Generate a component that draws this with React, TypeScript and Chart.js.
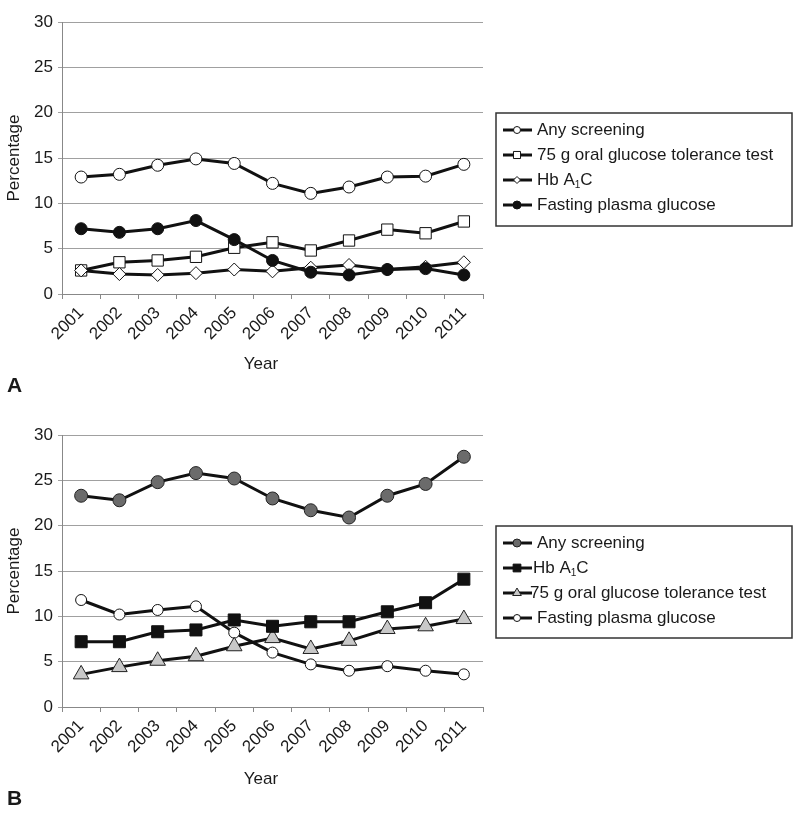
import React, { useEffect, useRef } from 'react';
import { Chart, registerables } from 'chart.js';

Chart.register(...registerables);

const FONT = "'Liberation Sans', Arial, Helvetica, sans-serif";

const years = ['2001', '2002', '2003', '2004', '2005', '2006', '2007', '2008', '2009', '2010', '2011'];
const yMin = 0;
const yMax = 30;
const yStep = 5;

// Panel A
const aLabels = ['Any screening', '75 g oral glucose tolerance test', 'Hb A₁C', 'Fasting plasma glucose'];
const aAnyScreening = [12.9, 13.2, 14.2, 14.9, 14.4, 12.2, 11.1, 11.8, 12.9, 13.0, 14.3];
const aOgtt = [2.6, 3.5, 3.7, 4.1, 5.1, 5.7, 4.8, 5.9, 7.1, 6.7, 8.0];
const aHba1c = [2.6, 2.2, 2.1, 2.3, 2.7, 2.5, 2.9, 3.2, 2.7, 3.0, 3.5];
const aFpg = [7.2, 6.8, 7.2, 8.1, 6.0, 3.7, 2.4, 2.1, 2.7, 2.8, 2.1];

// Panel B
const bLabels = ['Any screening', 'Hb A₁C', '75 g oral glucose tolerance test', 'Fasting plasma glucose'];
const bAnyScreening = [23.3, 22.8, 24.8, 25.8, 25.2, 23.0, 21.7, 20.9, 23.3, 24.6, 27.6];
const bHba1c = [7.2, 7.2, 8.3, 8.5, 9.6, 8.9, 9.4, 9.4, 10.5, 11.5, 14.1];
const bOgtt = [3.6, 4.4, 5.1, 5.6, 6.7, 7.6, 6.4, 7.3, 8.6, 8.9, 9.7];
const bFpg = [11.8, 10.2, 10.7, 11.1, 8.2, 6.0, 4.7, 4.0, 4.5, 4.0, 3.6];

const xTitle = 'Year';
const yTitle = 'Percentage';

type MarkerSpec = { style: string; r: number; fill: string; stroke: string; lw: number; legendR: number };

function drawMarker(ctx: CanvasRenderingContext2D, m: MarkerSpec, x: number, y: number, r: number) {
  ctx.beginPath();
  if (m.style === 'circle') {
    ctx.arc(x, y, r, 0, Math.PI * 2);
  } else if (m.style === 'rect') {
    const s = r * Math.SQRT1_2;
    ctx.rect(x - s, y - s, 2 * s, 2 * s);
  } else if (m.style === 'rectRot') {
    ctx.moveTo(x, y - r);
    ctx.lineTo(x + r, y);
    ctx.lineTo(x, y + r);
    ctx.lineTo(x - r, y);
    ctx.closePath();
  } else if (m.style === 'triangle') {
    ctx.moveTo(x, y - r);
    ctx.lineTo(x + r * Math.sin((2 * Math.PI) / 3), y - r * Math.cos((2 * Math.PI) / 3));
    ctx.lineTo(x + r * Math.sin((4 * Math.PI) / 3), y - r * Math.cos((4 * Math.PI) / 3));
    ctx.closePath();
  }
  ctx.fillStyle = m.fill;
  ctx.fill();
  ctx.lineWidth = m.lw;
  ctx.strokeStyle = m.stroke;
  ctx.stroke();
}

function drawRichLabel(ctx: CanvasRenderingContext2D, text: string, x: number, y: number, size: number) {
  const parts = text.split('₁');
  ctx.fillStyle = '#1a1a1a';
  ctx.textBaseline = 'middle';
  ctx.textAlign = 'left';
  let cx = x;
  parts.forEach((p, i) => {
    ctx.font = `${size}px ${FONT}`;
    ctx.fillText(p, cx, y);
    cx += ctx.measureText(p).width;
    if (i < parts.length - 1) {
      ctx.font = `${Math.round(size * 0.6)}px ${FONT}`;
      ctx.fillText('1', cx, y + 5);
      cx += ctx.measureText('1').width;
    }
  });
}

const panelPlugin = {
  id: 'panelDecor',
  afterDraw(chart: any, _args: any, opts: any) {
    const ctx: CanvasRenderingContext2D = chart.ctx;
    ctx.save();
    // legend box
    const { box, items, rowStart, rowGap } = opts;
    ctx.lineWidth = 1.5;
    ctx.strokeStyle = '#333';
    ctx.strokeRect(box.x, box.y, box.w, box.h);
    items.forEach((it: any, i: number) => {
      const cy = box.y + rowStart + i * rowGap;
      ctx.beginPath();
      ctx.moveTo(box.x + 7, cy);
      ctx.lineTo(box.x + 36, cy);
      ctx.lineWidth = 3;
      ctx.strokeStyle = '#111';
      ctx.stroke();
      drawMarker(ctx, it.marker, box.x + 21, cy, it.marker.legendR);
      drawRichLabel(ctx, it.label, box.x + 41 + (it.dx || 0), cy, 17);
    });
    // x axis title
    ctx.fillStyle = '#1a1a1a';
    ctx.font = `17px ${FONT}`;
    ctx.textAlign = 'center';
    ctx.textBaseline = 'alphabetic';
    ctx.fillText(opts.xTitle, opts.xTitleX, opts.xTitleY);
    // panel letter
    ctx.font = `bold 21px ${FONT}`;
    ctx.textAlign = 'left';
    ctx.fillText(opts.letter, 7, opts.letterY);
    ctx.restore();
  },
};

Chart.register(panelPlugin);

type SeriesDef = { label: string; data: number[]; marker: MarkerSpec; order: number; dx?: number };

function buildConfig(series: SeriesDef[], padTop: number, decor: any): any {
  return {
    type: 'line',
    data: {
      labels: years,
      datasets: series.map((s) => ({
        label: s.label,
        data: s.data,
        borderColor: '#111',
        borderWidth: 3,
        tension: 0,
        fill: false,
        order: s.order,
        pointStyle: s.marker.style,
        pointRadius: s.marker.r,
        pointBackgroundColor: s.marker.fill,
        pointBorderColor: s.marker.stroke,
        pointBorderWidth: s.marker.lw,
      })),
    },
    options: {
      responsive: false,
      animation: false,
      events: [],
      layout: { padding: { left: 0, right: 317, top: padTop, bottom: 0 } },
      plugins: {
        legend: { display: false },
        tooltip: { enabled: false },
        panelDecor: {
          ...decor,
          items: series.map((s) => ({ label: s.label, marker: s.marker, dx: s.dx })),
        },
      },
      scales: {
        x: {
          type: 'category',
          offset: true,
          grid: { display: true, drawOnChartArea: false, drawTicks: true, tickLength: 5, offset: true, color: '#888', lineWidth: 1 },
          border: { display: true, color: '#888', width: 1 },
          ticks: { minRotation: 45, maxRotation: 45, autoSkip: false, padding: 4, color: '#1a1a1a', font: { family: FONT, size: 17 } },
          afterFit: (s: any) => {
            s.height = 106;
          },
        },
        y: {
          min: yMin,
          max: yMax,
          ticks: { stepSize: yStep, padding: 5, color: '#1a1a1a', font: { family: FONT, size: 17 } },
          grid: { color: '#a0a0a0', lineWidth: 1, tickLength: 4, drawTicks: true },
          border: { display: true, color: '#888', width: 1 },
          title: { display: true, text: yTitle, color: '#1a1a1a', font: { family: FONT, size: 17 }, padding: { top: 4, bottom: 0 } },
          afterFit: (s: any) => {
            s.width = 62;
          },
        },
      },
    },
  };
}

const legendBase = { box: { x: 496, w: 296, h: 113 }, rowStart: 17, rowGap: 25 };

function PanelA() {
  const ref = useRef<HTMLCanvasElement>(null);
  useEffect(() => {
    const series: SeriesDef[] = [
      { label: aLabels[0], data: aAnyScreening, order: 3, marker: { style: 'circle', r: 6, fill: '#fff', stroke: '#111', lw: 1, legendR: 3.5 } },
      { label: aLabels[1], data: aOgtt, order: 2, marker: { style: 'rect', r: 8, fill: '#fff', stroke: '#111', lw: 1, legendR: 5 } },
      { label: aLabels[2], data: aHba1c, order: 1, marker: { style: 'rectRot', r: 6.5, fill: '#fff', stroke: '#111', lw: 1, legendR: 3.5 } },
      { label: aLabels[3], data: aFpg, order: 0, marker: { style: 'circle', r: 6, fill: '#111', stroke: '#111', lw: 1, legendR: 4 } },
    ];
    const chart = new Chart(
      ref.current as HTMLCanvasElement,
      buildConfig(series, 22, {
        ...legendBase,
        box: { ...legendBase.box, y: 113 },
        xTitle,
        xTitleX: 261,
        xTitleY: 369,
        letter: 'A',
        letterY: 392,
      })
    );
    return () => chart.destroy();
  }, []);
  return <canvas ref={ref} width={800} height={400} style={{ position: 'absolute', left: 0, top: 0 }} />;
}

function PanelB() {
  const ref = useRef<HTMLCanvasElement>(null);
  useEffect(() => {
    const series: SeriesDef[] = [
      { label: bLabels[0], data: bAnyScreening, order: 0, marker: { style: 'circle', r: 6.5, fill: '#6b6b6b', stroke: '#222', lw: 1, legendR: 4 } },
      { label: bLabels[1], data: bHba1c, order: 1, dx: -4, marker: { style: 'rect', r: 8.5, fill: '#111', stroke: '#111', lw: 1, legendR: 5.5 } },
      { label: bLabels[2], data: bOgtt, order: 2, dx: -7, marker: { style: 'triangle', r: 9, fill: '#c8c8c8', stroke: '#222', lw: 1, legendR: 5 } },
      { label: bLabels[3], data: bFpg, order: 3, marker: { style: 'circle', r: 5.5, fill: '#fff', stroke: '#111', lw: 1, legendR: 3.5 } },
    ];
    const chart = new Chart(
      ref.current as HTMLCanvasElement,
      buildConfig(series, 35, {
        ...legendBase,
        box: { ...legendBase.box, y: 126, h: 112 },
        xTitle,
        xTitleX: 261,
        xTitleY: 384,
        letter: 'B',
        letterY: 405,
      })
    );
    return () => chart.destroy();
  }, []);
  return <canvas ref={ref} width={800} height={413} style={{ position: 'absolute', left: 0, top: 400 }} />;
}

export default function App() {
  return (
    <div style={{ position: 'absolute', left: 0, top: 0, width: 800, height: 813, background: '#fff' }}>
      <PanelA />
      <PanelB />
    </div>
  );
}
